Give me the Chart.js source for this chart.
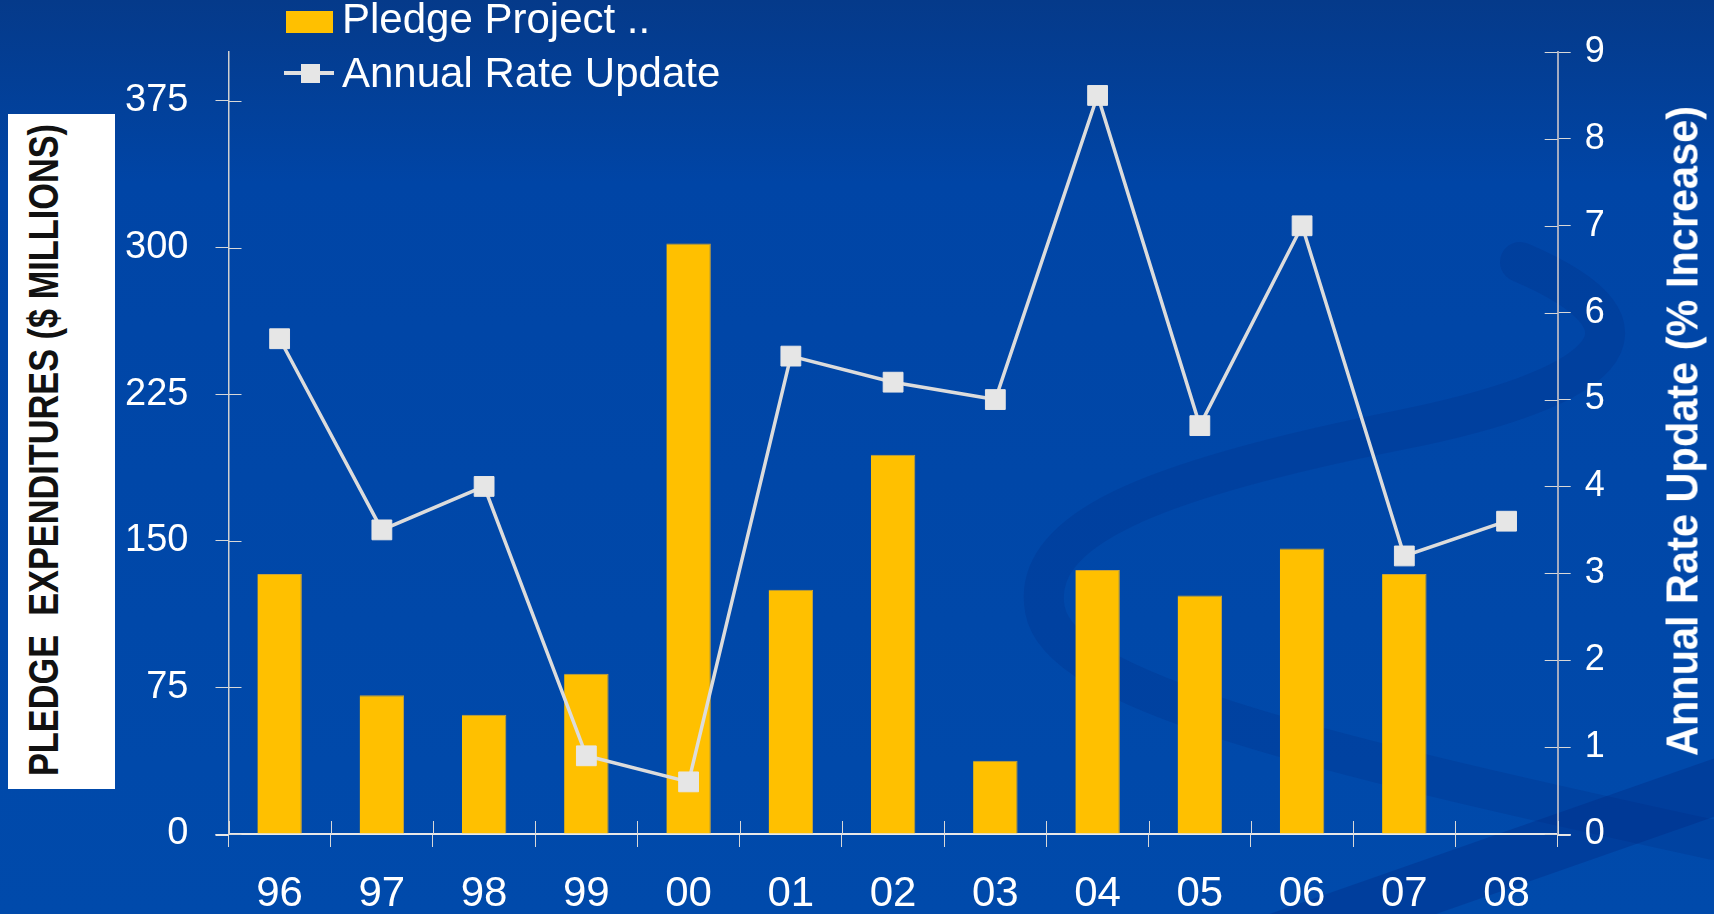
<!DOCTYPE html>
<html>
<head>
<meta charset="utf-8">
<script src="https://cdn.jsdelivr.net/npm/chart.js@4.4.1/dist/chart.umd.min.js"></script>
<style>
  html, body { margin: 0; padding: 0; overflow: hidden; background: #0047aa; }
  #wrap { position: relative; width: 1714px; height: 914px; }
  #chart { position: absolute; left: 0; top: 0; }
  .leg { position: absolute; font-family: 'Liberation Sans', Arial, sans-serif; font-size: 42px; line-height: 42px; color: #fff; white-space: pre; }
  #legBox { position: absolute; left: 286px; top: 11px; width: 47px; height: 22px; background: #ffc000; }
  #legLine { position: absolute; left: 284px; top: 71px; width: 50px; height: 4px; background: #e0e0e0; }
  #legMark { position: absolute; left: 301px; top: 64px; width: 19px; height: 19px; background: #e6e6e6; }
  #leftBox { position: absolute; left: 8px; top: 114px; width: 107px; height: 675px; background: #fff; }
  .ttl { position: absolute; font-family: 'Liberation Sans', Arial, sans-serif; font-weight: bold; white-space: pre; line-height: 1; }
  #leftTitle { left: 35px; top: 336px; font-size: 43px; color: #111; }
  #rightTitle { left: 1682px; top: 431px; font-size: 45px; color: #fff; }
</style>
</head>
<body>
<div id="wrap">
  <canvas id="chart" width="1714" height="914"></canvas>
  <div id="legBox"></div>
  <div class="leg" id="legText1" style="left:342px; top:-2px;"></div>
  <div id="legLine"></div>
  <div id="legMark"></div>
  <div class="leg" id="legText2" style="left:342px; top:52px;"></div>
  <div id="leftBox"><span class="ttl" id="leftTitle">PLEDGE  EXPENDITURES ($ MILLIONS)</span></div>
  <span class="ttl" id="rightTitle">Annual Rate Update (% Increase)</span>
</div>
<script>
// chart values
const years = ['96', '97', '98', '99', '00', '01', '02', '03', '04', '05', '06', '07', '08']
const pledge = [133, 71, 61, 82, 302, 125, 194, 37.5, 135, 122, 146, 133, null]
const rate = [5.7, 3.5, 4.0, 0.9, 0.6, 5.5, 5.2, 5.0, 8.5, 4.7, 7.0, 3.2, 3.6]
const leftTicks = [0, 75, 150, 225, 300, 375]
const rightTicks = [0, 1, 2, 3, 4, 5, 6, 7, 8, 9]

const barLabel = 'Pledge Project ..'
const lineLabel = 'Annual Rate Update'

document.getElementById('legText1').textContent = barLabel
document.getElementById('legText2').textContent = lineLabel

// background with the dark swooshes
const backdrop = {
  id: 'backdrop',
  beforeDraw(chart) {
    const ctx = chart.ctx
    ctx.save()
    let g = ctx.createLinearGradient(0, 0, 0, 914)
    g.addColorStop(0, '#053a8a')
    g.addColorStop(0.2, '#0045a6')
    g.addColorStop(1, '#004aab')
    ctx.fillStyle = g
    ctx.fillRect(0, 0, 1714, 914)

    ctx.lineCap = 'round'
    ctx.strokeStyle = 'rgba(0, 38, 125, 0.2)'
    ctx.lineWidth = 40
    ctx.beginPath()
    ctx.moveTo(1520, 262)
    ctx.bezierCurveTo(1680, 330, 1600, 390, 1400, 430)
    ctx.bezierCurveTo(1150, 480, 1030, 530, 1045, 610)
    ctx.bezierCurveTo(1060, 690, 1300, 750, 1714, 840)
    ctx.stroke()

    ctx.strokeStyle = 'rgba(0, 38, 125, 0.3)'
    ctx.lineWidth = 55
    ctx.beginPath()
    ctx.moveTo(1250, 950)
    ctx.lineTo(1750, 775)
    ctx.stroke()
    ctx.restore()
  }
}

// tick marks that cross the axes
const crossTicks = {
  id: 'crossTicks',
  afterDraw(chart) {
    const ctx = chart.ctx
    const xs = chart.scales.x, yl = chart.scales.y, yr = chart.scales.y1
    ctx.save()
    ctx.lineWidth = 1
    ctx.strokeStyle = '#d8d8d8'
    ctx.beginPath()
    yl.ticks.forEach(t => {
      const py = Math.round(yl.getPixelForValue(t.value)) + 0.5
      ctx.moveTo(yl.right, py); ctx.lineTo(yl.right + 13, py)
    })
    yr.ticks.forEach(t => {
      const py = Math.round(yr.getPixelForValue(t.value)) + 0.5
      ctx.moveTo(yr.left - 13, py); ctx.lineTo(yr.left, py)
    })
    const base = xs.top
    for (let i = 0; i <= years.length; i++) {
      let px
      if (i == 0) px = xs.left
      else if (i == years.length) px = xs.right
      else px = (xs.getPixelForValue(i - 1) + xs.getPixelForValue(i)) / 2
      px = Math.round(px) + 0.5
      ctx.moveTo(px, base - 13); ctx.lineTo(px, base)
    }
    ctx.stroke()
    // x axis line runs a little past both axes
    ctx.lineWidth = 2
    ctx.strokeStyle = '#e8e8e8'
    ctx.beginPath()
    ctx.moveTo(xs.left - 13, base + 1); ctx.lineTo(xs.left, base + 1)
    ctx.moveTo(xs.right, base + 1); ctx.lineTo(xs.right + 13, base + 1)
    ctx.stroke()
    ctx.restore()
  }
}

const data = {
  labels: years,
  datasets: [
    {
      type: 'line',
      label: lineLabel,
      data: rate,
      yAxisID: 'y1',
      borderColor: '#dcdcdc',
      borderWidth: 3.5,
      pointStyle: 'rect',
      pointRadius: 14,
      pointBackgroundColor: '#e6e6e6',
      pointBorderColor: '#e6e6e6',
      pointBorderWidth: 1,
      tension: 0,
      order: 0
    },
    {
      type: 'bar',
      label: barLabel,
      data: pledge,
      yAxisID: 'y',
      backgroundColor: '#ffc000',
      borderColor: '#c9a23a',
      borderWidth: { top: 1, right: 1, left: 0, bottom: 0 },
      barPercentage: 0.435,
      categoryPercentage: 1,
      order: 1
    }
  ]
}

const tickFont = { family: "'Liberation Sans', Arial, sans-serif", size: 38 }

const config = {
  data: data,
  plugins: [backdrop, crossTicks],
  options: {
    responsive: false,
    animation: false,
    layout: { padding: { top: 52, left: 0, right: 0, bottom: 0 } },
    plugins: { legend: { display: false }, tooltip: { enabled: false } },
    scales: {
      x: {
        offset: true,
        grid: { display: true, offset: true, drawOnChartArea: false, tickLength: 13, color: '#d8d8d8', lineWidth: 1 },
        border: { color: '#e8e8e8', width: 2 },
        ticks: { color: '#fff', font: { family: tickFont.family, size: 42 }, padding: 22, maxRotation: 0 },
        afterFit(s) { s.height = 80 }
      },
      y: {
        position: 'left',
        min: 0, max: 400,
        afterBuildTicks(s) { s.ticks = leftTicks.map(v => ({ value: v })) },
        grid: { drawOnChartArea: false, tickLength: 13, color: '#d8d8d8' },
        border: { color: '#d0d0d0', width: 1.5 },
        ticks: { color: '#fff', font: tickFont, padding: 27 },
        afterFit(s) { s.width = 228.5 }
      },
      y1: {
        position: 'right',
        min: 0, max: 9,
        afterBuildTicks(s) { s.ticks = rightTicks.map(v => ({ value: v })) },
        grid: { drawOnChartArea: false, tickLength: 13, color: '#d8d8d8' },
        border: { color: '#a4abc0', width: 2 },
        ticks: { color: '#fff', font: { family: tickFont.family, size: 36 }, padding: 14 },
        afterFit(s) { s.width = 156.3 }
      }
    }
  }
}

const myChart = new Chart(document.getElementById('chart'), config)

// squeeze the axis titles to the length they have in the picture
function fitTitle(id, len) {
  const el = document.getElementById(id)
  const k = len / el.offsetWidth
  el.style.transform = 'translate(-50%, -50%) rotate(-90deg) scaleX(' + k + ')'
}
fitTitle('leftTitle', 652)
fitTitle('rightTitle', 650)
</script>
</body>
</html>
